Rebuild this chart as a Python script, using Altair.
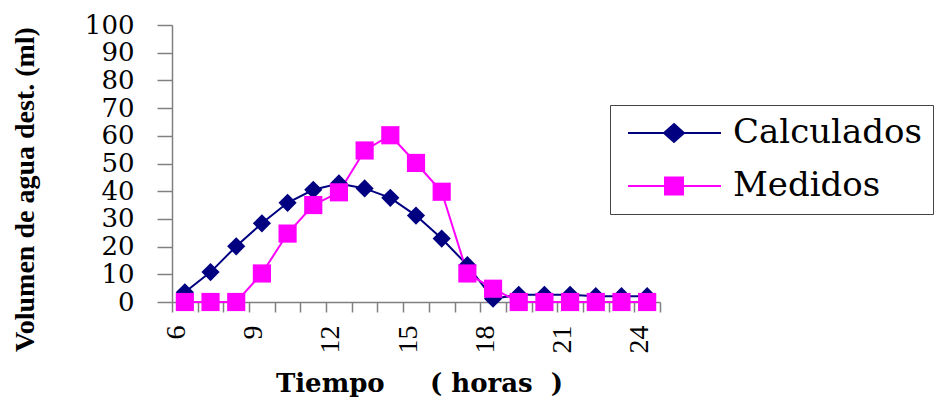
import altair as alt
import pandas as pd

# ---- data ----
hours = list(range(6, 25))
calculados = [3.5, 10.8, 20.1, 28.4, 35.8, 40.5, 42.8, 41.0, 37.6, 31.2, 22.9, 13.3,
              1.2, 2.6, 2.6, 2.6, 2.1, 2.1, 2.1]
medidos = [0, 0, 0, 10.3, 24.7, 35.0, 39.6, 54.7, 60.2, 50.2, 39.8, 10.3,
           4.8, 0, 0, 0, 0, 0, 0]
series_names = ["Calculados", "Medidos"]
series_colors = ["#000080", "#FF00FF"]
series_shapes = ["diamond", "square"]
y_ticks = list(range(0, 101, 10))
x_label_hours = [6, 9, 12, 15, 18, 21, 24]
x_title = "Tiempo\u00a0\u00a0\u00a0\u00a0\u00a0(\u00a0horas\u00a0\u00a0)"
y_title = "Volumen de agua dest. (ml)"

rows = []
for name, vals in zip(series_names, [calculados, medidos]):
    for h, v in zip(hours, vals):
        rows.append({"hora": h, "serie": name, "valor": v})
df = pd.DataFrame(rows)

# legend symbols: a line with the marker in the middle (custom symbol paths)
legend_paths = [
    "M-1,0H8.3M3.6,-0.9L4.6,0L3.6,0.9L2.6,0Z",
    "M-1,0H8.3M2.7,-0.85H4.5V0.85H2.7Z",
]

legend = alt.Legend(
    orient="none", legendX=438, legendY=80, direction="vertical", title="",
    labelFont="DejaVu Serif", labelFontSize=34, labelColor="#000000", labelLimit=400,
    symbolSize=400, symbolStrokeWidth=2, labelOffset=78, symbolOpacity=1,
    padding=11, rowPadding=19, strokeColor="#444444", fillColor="white",
)

label_expr = f"indexof({x_label_hours}, datum.value) >= 0 ? datum.label : ''"

x_enc = alt.X(
    "hora:O",
    scale=alt.Scale(type="band", paddingInner=0, paddingOuter=0),
    axis=alt.Axis(
        title=x_title, labelExpr=label_expr,
        domainColor="#808080", domainWidth=1.5, tickColor="#808080", tickWidth=1.5,
        tickSize=10, tickBand="extent", labelAngle=270, labelAlign="right",
        labelBaseline="alphabetic", labelPadding=13, labelFont="Liberation Serif",
        labelFontSize=28, labelColor="#000000", labelOverlap=False, labelFlush=False,
        titleFont="DejaVu Serif", titleFontWeight="bold", titleFontSize=26,
        titleColor="#000000", titleX=247, titleY=81, titleAlign="center",
        titleBaseline="middle", grid=False,
    ),
)
y_enc = alt.Y(
    "valor:Q",
    scale=alt.Scale(domain=[0, 100], nice=False, zero=True),
    axis=alt.Axis(
        values=y_ticks, title=y_title,
        domainColor="#808080", domainWidth=1.5, tickColor="#808080", tickWidth=1.5,
        tickSize=15, labelPadding=23, labelFont="DejaVu Serif", labelFontSize=26,
        labelColor="#000000", labelOverlap=False, labelFlush=False,
        titleFont="Liberation Serif", titleFontWeight="bold", titleFontSize=28,
        titleColor="#000000", titleX=-147, titleY=164, titleAngle=270,
        titleAlign="center", titleBaseline="middle", grid=False,
    ),
)

lines = alt.Chart(df).mark_line(strokeWidth=2).encode(
    x=x_enc, y=y_enc,
    stroke=alt.Stroke("serie:N", scale=alt.Scale(domain=series_names, range=series_colors),
                      legend=legend),
    detail="serie:N",
)

point_layers = []
for name, shp in zip(series_names, series_shapes):
    point_layers.append(
        alt.Chart(df).transform_filter(alt.datum.serie == name)
        .mark_point(filled=True, opacity=1, size=330, shape=shp)
        .encode(x=x_enc, y=y_enc,
                fill=alt.Fill("serie:N",
                              scale=alt.Scale(domain=series_names, range=series_colors),
                              legend=legend))
    )

# legend-only layer (zero-size marks) carrying the line+marker legend symbols
legend_layer = alt.Chart(df).mark_point(filled=True, opacity=1, size=0).encode(
    x=x_enc, y=y_enc,
    fill=alt.Fill("serie:N", scale=alt.Scale(domain=series_names, range=series_colors),
                  legend=legend),
    shape=alt.Shape("serie:N", scale=alt.Scale(domain=series_names, range=legend_paths),
                    legend=legend),
)

chart = alt.layer(lines, *point_layers, legend_layer).properties(
    width=488, height=277,
    autosize=alt.AutoSizeParams(type="none"),
    padding={"left": 172, "top": 25, "right": 276, "bottom": 98},
    background="white",
).configure_view(stroke=None)

chart.save("out.html", embed_options={"renderer": "svg", "actions": False})
